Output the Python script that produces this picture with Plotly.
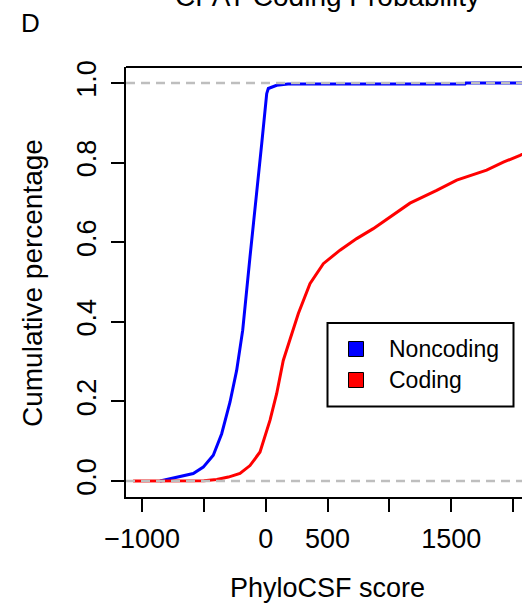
import plotly.graph_objects as go

# Empirical cumulative distributions of PhyloCSF scores
noncoding_score = [-855, -666, -586, -505, -424, -356, -289, -235, -186, -127,
                   -68, -32, 8, 21, 89, 180, 1612, 1620, 2200]
noncoding_cum = [0.0, 0.013, 0.019, 0.035, 0.065, 0.119, 0.198, 0.278, 0.379, 0.563,
                 0.730, 0.848, 0.973, 0.986, 0.994, 0.997, 0.997, 1.0, 1.0]

coding_score = [-1072, -500, -396, -302, -208, -127, -46, 35, 89, 142, 197, 264,
                358, 466, 601, 736, 870, 990, 1167, 1383, 1545, 1787, 1922, 2057, 2200]
coding_cum = [0.0, 0.001, 0.004, 0.010, 0.019, 0.039, 0.073, 0.153, 0.220, 0.303,
              0.356, 0.421, 0.496, 0.546, 0.580, 0.609, 0.634, 0.660, 0.698, 0.730,
              0.756, 0.781, 0.801, 0.818, 0.840]

x_ticks = [-1000, -500, 0, 500, 1000, 1500, 2000]
x_tick_text = ["\u22121000", "", "0", "500", "", "1500", ""]
y_ticks = [0.0, 0.2, 0.4, 0.6, 0.8, 1.0]
y_tick_text = ["0.0", "0.2", "0.4", "0.6", "0.8", "1.0"]

series_names = ["Noncoding", "Coding"]
series_colors = ["#0000FF", "#FF0000"]

FONT = "Liberation Sans, Arial, Helvetica, sans-serif"
W, H = 522, 608
L, T, B, R = 126, 67, 111, 0
PW, PH = W - L - R, H - T - B


def px(xp):
    return (xp - L) / PW


def py(yp):
    return (H - B - yp) / PH


fig = go.Figure()
fig.add_trace(go.Scatter(x=noncoding_score, y=noncoding_cum, mode="lines",
                         line=dict(color=series_colors[0], width=3),
                         name=series_names[0], showlegend=False))
fig.add_trace(go.Scatter(x=coding_score, y=coding_cum, mode="lines",
                         line=dict(color=series_colors[1], width=3),
                         name=series_names[1], showlegend=False))

shapes = []
# reference lines at 0 and 1, drawn over the curves
for yv in (0, 1):
    shapes.append(dict(type="line", xref="paper", yref="y", x0=0, x1=1, y0=yv, y1=yv,
                       line=dict(color="#BEBEBE", width=2.5, dash="9px,6px"),
                       layer="above"))
# top border of the plotting box
shapes.append(dict(type="line", xref="paper", yref="paper", x0=0, x1=1.02, y0=1, y1=1,
                   line=dict(color="black", width=2), layer="above"))

# legend box with coloured keys
shapes.append(dict(type="rect", xref="paper", yref="paper",
                   x0=px(327.5), x1=px(513.5), y0=py(406.5), y1=py(323),
                   line=dict(color="black", width=2), fillcolor="white", layer="above"))
annotations = []
for i, (name, col) in enumerate(zip(series_names, series_colors)):
    cy = 349 + 31 * i
    shapes.append(dict(type="rect", xref="paper", yref="paper",
                       x0=px(348.5), x1=px(363.5), y0=py(cy + 7.5), y1=py(cy - 7.5),
                       line=dict(color="black", width=1), fillcolor=col, layer="above"))
    annotations.append(dict(text=name, xref="paper", yref="paper", x=px(387), y=py(cy),
                            xanchor="left", yanchor="middle", showarrow=False,
                            font=dict(family=FONT, size=23, color="black")))

annotations += [
    dict(text="CPAT Coding Probability", xref="paper", yref="paper",
         x=px(327), y=py(-4), xanchor="center", yanchor="middle", showarrow=False,
         font=dict(family=FONT, size=28, color="black")),
    dict(text="D", xref="paper", yref="paper", x=px(19), y=py(23),
         xanchor="left", yanchor="middle", showarrow=False,
         font=dict(family=FONT, size=26, color="black")),
    dict(text="PhyloCSF score", xref="paper", yref="paper", x=px(327), y=py(588),
         xanchor="center", yanchor="middle", showarrow=False,
         font=dict(family=FONT, size=27, color="black")),
    dict(text="Cumulative percentage", xref="paper", yref="paper", x=px(32), y=py(283),
         xanchor="center", yanchor="middle", textangle=-90, showarrow=False,
         font=dict(family=FONT, size=28, color="black")),
]

axis_common = dict(showgrid=False, zeroline=False, showline=True, linecolor="black",
                   linewidth=2, ticks="outside", ticklen=13, tickwidth=2,
                   tickcolor="black", tickfont=dict(family=FONT, size=27, color="black"))

fig.update_layout(
    width=W, height=H,
    margin=dict(l=L, r=R, t=T, b=B, pad=0),
    paper_bgcolor="white", plot_bgcolor="white",
    showlegend=False,
    xaxis=dict(range=[-1130, 2073], tickvals=x_ticks, ticktext=x_tick_text,
               ticklabelstandoff=4, **axis_common),
    yaxis=dict(range=[-0.04, 1.04], tickvals=y_ticks, ticktext=y_tick_text,
               tickangle=-90, ticklabelstandoff=4, **axis_common),
    shapes=shapes,
    annotations=annotations,
)

fig.write_html("out.html")
